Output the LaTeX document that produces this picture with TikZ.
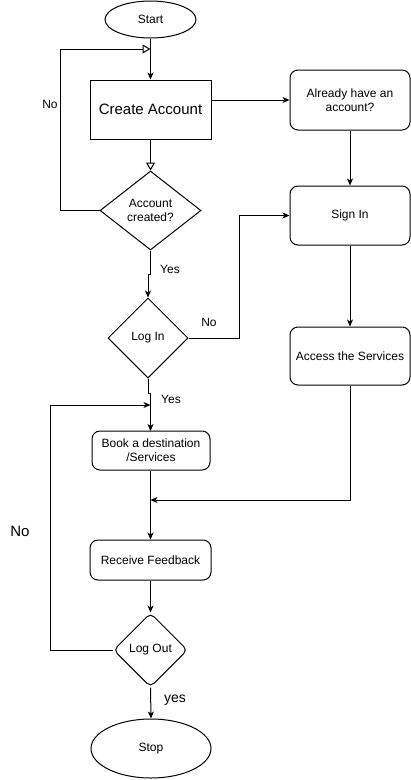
\documentclass[tikz,border=0pt]{standalone}
\usepackage{fontspec}
\setmainfont{Liberation Sans}
\usetikzlibrary{shapes.geometric,arrows.meta}
\begin{document}
\begin{tikzpicture}[x=1pt,y=-1pt,line width=1pt,
  every node/.style={font=\fontsize{12}{14}\selectfont,align=center,inner sep=0pt},
  box/.style={draw,rectangle,minimum width=#1},
  rbox/.style={draw,rectangle,rounded corners=8pt},
  term/.style={draw,ellipse},
  dec/.style={draw,diamond,aspect=1},
  arr/.style={-{Stealth[length=7pt,width=6pt,inset=2pt]}},
  oarr/.style={-{Triangle[open,length=8pt,width=9pt]}},
  lbl/.style={font=\fontsize{12}{14}\selectfont}]
\fill[white] (0,0) rectangle (411,780);
\useasboundingbox (0,0) rectangle (411,780);

\node[term,minimum width=91pt,minimum height=37pt] (start) at (150.5,19.5) {Start};
\node[draw,rectangle,minimum width=121pt,minimum height=59pt,font=\fontsize{15}{18}\selectfont] (create) at (150.5,109.5) {Create Account};
\node[dec,minimum width=101pt,minimum height=79pt] (acc) at (150.5,210.5) {Account\\created?};
\node[dec,minimum width=80pt,minimum height=80pt] (login) at (148,338) {Log In};
\node[rbox,minimum width=118pt,minimum height=39pt] (book) at (151,450.5) {Book a destination\\/Services};
\node[rbox,minimum width=121pt,minimum height=40pt] (recv) at (150.5,560) {Receive Feedback};
\node[dec,rounded corners=5pt,minimum width=74pt,minimum height=74pt] (logout) at (150.5,650) {Log Out};
\node[term,minimum width=120pt,minimum height=59pt] (stop) at (151,748.5) {Stop};
\node[rbox,minimum width=120pt,minimum height=60pt] (already) at (350,100) {Already have an\\account?};
\node[rbox,minimum width=120pt,minimum height=59pt] (signin) at (350,215.5) {Sign In};
\node[rbox,minimum width=120pt,minimum height=58pt] (access) at (350,356) {Access the Services};

\coordinate (j1) at (150.5,49);
\coordinate (j2) at (150.5,405);
\coordinate (j3) at (150.5,500);

\draw[arr] (start.south) -- (create.north);
\draw[oarr] (acc.west) -- (60,210.5) -- (60,49) -- (j1);
\draw[oarr] (create.south) -- (acc.north);
\draw[arr] (create.east |- already.west) -- (already.west);
\draw[arr] (already.south) -- (signin.north);
\draw[arr] (signin.south) -- (access.north);
\draw[arr] (access.south) -- (350,500) -- (j3);
\draw[arr] (acc.south) -- (150.5,274) -- (148,274) -- (login.north);
\draw[arr] (login.east) -- (239,338) -- (239,215.5) -- (signin.west);
\draw (login.south) -- (148,393) -- (150.5,393) -- (j2);
\draw[arr] (j2) -- (150.5,431);
\draw[arr] (logout.west) -- (50,650) -- (50,405) -- (j2);
\draw[arr] (book.south -| j3) -- (recv.north);
\draw[arr] (recv.south) -- (logout.north);
\draw[arr] (logout.south) -- (stop.north);

\node[lbl] (lno1) at (50,104) {No};
\node[lbl] (lyes1) at (170,269) {Yes};
\node[lbl] (lno2) at (209,322) {No};
\node[lbl] (lyes2) at (171,399) {Yes};
\node[font=\fontsize{15}{18}\selectfont] (lno3) at (20,531) {No};
\node[font=\fontsize{14}{17}\selectfont] (lyes3) at (175,700) {yes};
\end{tikzpicture}
\end{document}
